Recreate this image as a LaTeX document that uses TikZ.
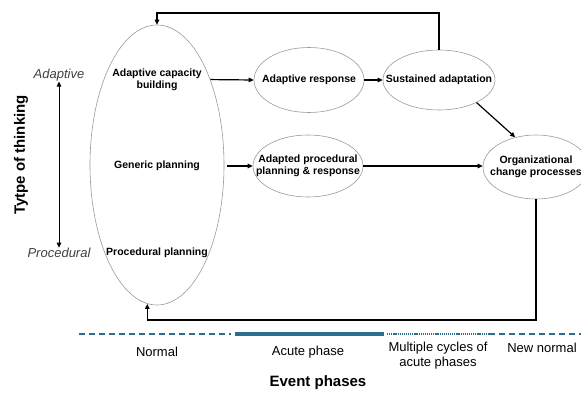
\documentclass[tikz,border=0pt]{standalone}
\usepackage{fontspec}
\setmainfont{Liberation Sans}
\usepackage{xcolor}
\usepackage{tikz}
\usetikzlibrary{arrows.meta, positioning, shapes.geometric, calc}
\definecolor{phaseblue}{HTML}{2B6E8E}
\definecolor{rimgray}{HTML}{9A9A9A}
\definecolor{axisgray}{HTML}{404040}

\begin{document}
\begin{tikzpicture}[
    x=1pt, y=-1pt,
    blob/.style={ellipse, draw=rimgray, line width=0.6pt, inner sep=0pt},
    inner/.style={font=\fontsize{10.5}{11.5}\selectfont\bfseries, align=center, inner sep=1pt},
    blobtext/.style={label={[inner]center:#1}},
    lab/.style={font=\fontsize{13}{15}\selectfont, align=center},
    axis/.style={font=\fontsize{15}{17}\selectfont\bfseries},
    pole/.style={font=\fontsize{13}{15}\selectfont\itshape, text=axisgray},
    ff/.style={-{Triangle[length=5pt, width=4.5pt]}, line width=1.2pt},
    dbl/.style={{Triangle[length=5pt, width=4.5pt]}-{Triangle[length=5pt, width=4.5pt]}, line width=1pt},
  ]
  \useasboundingbox (0,0) rectangle (581,393);

  % Planning ellipse and its levels
  \node[blob, minimum width=134pt, minimum height=280pt] (big) at (157,165) {};
  \node[inner] (acb) at (157,80) {Adaptive capacity\\building};
  \node[inner] (gen) at (157,166) {Generic planning};
  \node[inner] (proc) at (157,253) {Procedural planning};

  % Responses
  \node[blob, minimum width=110pt, minimum height=65pt, blobtext={Adaptive response}] (ar) at (309,80) {};
  \node[blob, minimum width=112pt, minimum height=60pt, blobtext={Sustained adaptation}] (sa) at (439,80) {};
  \node[blob, minimum width=110pt, minimum height=62pt, blobtext={Adapted procedural\\planning \& response}] (apr) at (308,166) {};
  \node[blob, minimum width=106pt, minimum height=64pt, blobtext={Organizational\\change processes}] (ocp) at (536,167) {};

  \coordinate (topc) at (0,13);
  \coordinate (botc) at (0,320);

  % Forward arrows
  \draw[ff] (big.58) -- (ar.west);
  \draw[ff] (ar) -- (sa);
  \draw[ff] ([xshift=3pt]big.east |- apr.west) -- (apr.west);
  \draw[ff] (apr.east) -- (apr.east -| ocp.west);
  \draw[ff] (sa.-31) -- (ocp.125);

  % Loops back
  \draw[ff] (sa.north) -- (sa.north |- topc) -| (big.north);
  \draw[ff] (ocp.south) -- (ocp.south |- botc) -| (big.-94);

  % Type of thinking
  \node[pole] (adp) at (59,75) {Adaptive};
  \node[pole] (prc) at (59,253) {Procedural};
  \draw[dbl] ([yshift=3pt]adp.south) -- ([yshift=-3pt]prc.north);
  \node[axis, rotate=90] (tot) at (21,155) {Tytpe of thinking};

  % Event phases
  \coordinate (t0) at (79,334);
  \coordinate (t1) at (231,334);
  \coordinate (t2) at (235,334);
  \coordinate (t3) at (384,334);
  \coordinate (t4) at (387,334);
  \coordinate (t5) at (489,334);
  \coordinate (t6) at (581,334);
  \draw[phaseblue, line width=1.4pt, dash pattern=on 6pt off 4pt] (t0) -- (t1);
  \draw[phaseblue, line width=3.4pt] (t2) -- (t3);
  \draw[phaseblue, line width=1.2pt, dash pattern=on 1.2pt off 0.9pt] (t4) -- (t5);
  \draw[phaseblue, line width=1.4pt, dash pattern=on 6pt off 4pt] (t5) -- (t6);

  \node[lab] (nrm) at (157,352) {Normal};
  \node[lab] (acu) at (308,352) {Acute phase};
  \node[lab] (mul) at (438,356) {Multiple cycles of\\acute phases};
  \node[lab] (nnr) at (542,348) {New normal};
  \node[axis] (evt) at (318,383) {Event phases};
\end{tikzpicture}
\end{document}
